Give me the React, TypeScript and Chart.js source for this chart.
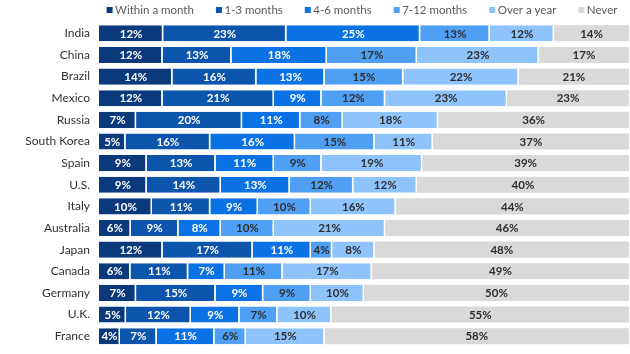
import React, { useEffect, useRef } from "react";
import { Chart, registerables } from "chart.js";

Chart.register(...registerables);

const countries = [
  "India", "China", "Brazil", "Mexico", "Russia", "South Korea", "Spain",
  "U.S.", "Italy", "Australia", "Japan", "Canada", "Germany", "U.K.", "France",
];

const seriesNames = ["Within a month", "1-3 months", "4-6 months", "7-12 months", "Over a year", "Never"];

const withinMonth = [12, 12, 14, 12, 7, 5, 9, 9, 10, 6, 12, 6, 7, 5, 4];
const oneToThree = [23, 13, 16, 21, 20, 16, 13, 14, 11, 9, 17, 11, 15, 12, 7];
const fourToSix = [25, 18, 13, 9, 11, 16, 11, 13, 9, 8, 11, 7, 9, 9, 11];
const sevenToTwelve = [13, 17, 15, 12, 8, 15, 9, 12, 10, 10, 4, 11, 9, 7, 6];
const overAYear = [12, 23, 22, 23, 18, 11, 19, 12, 16, 21, 8, 17, 10, 10, 15];
const never = [14, 17, 21, 23, 36, 37, 39, 40, 44, 46, 48, 49, 50, 55, 58];

const seriesValues = [withinMonth, oneToThree, fourToSix, sevenToTwelve, overAYear, never];
const seriesColors = ["#0a3a7c", "#0b55ad", "#0b72e5", "#4f9ff4", "#8ec3fb", "#d9d9d9"];
const labelColors = ["#ffffff", "#ffffff", "#ffffff", "#2e2e2e", "#2e2e2e", "#2e2e2e"];

const FONT = "Lato, 'Open Sans', sans-serif";

// Each row is shown as a full-width bar, so each share is scaled by its row total.
const rowTotals = countries.map((_, i) => seriesValues.reduce((s, arr) => s + arr[i], 0));

// Percent labels centred inside each segment.
const segmentLabels = {
  id: "segmentLabels",
  afterDatasetsDraw(chart: any) {
    const { ctx } = chart;
    ctx.save();
    ctx.font = `bold 11.5px ${FONT}`;
    ctx.textAlign = "center";
    ctx.textBaseline = "middle";
    chart.data.datasets.forEach((ds: any, di: number) => {
      const meta = chart.getDatasetMeta(di);
      if (meta.hidden) return;
      meta.data.forEach((el: any, i: number) => {
        const cx = (el.x + el.base) / 2;
        ctx.fillStyle = labelColors[di];
        ctx.fillText(`${ds.raw[i]}%`, cx, el.y + 0.5);
      });
    });
    ctx.restore();
  },
};

// Single-row legend with small square markers, centred over the plot area.
const topLegend = {
  id: "topLegend",
  afterDraw(chart: any) {
    const { ctx, chartArea } = chart;
    const box = 6;
    const textGap = 2.5;
    const itemGap = 22;
    ctx.save();
    ctx.font = `11.5px ${FONT}`;
    ctx.textBaseline = "middle";
    ctx.textAlign = "left";
    const widths = seriesNames.map((n) => box + textGap + ctx.measureText(n).width);
    const total = widths.reduce((a, b) => a + b, 0) + itemGap * (widths.length - 1);
    let x = (chartArea.left + chartArea.right) / 2 - total / 2 - 2;
    const y = 10;
    seriesNames.forEach((n, i) => {
      ctx.fillStyle = seriesColors[i];
      ctx.fillRect(x, y - box / 2, box, box);
      ctx.fillStyle = "#5a5a5a";
      ctx.fillText(n, x + box + textGap, y + 0.5);
      x += widths[i] + itemGap;
    });
    ctx.restore();
  },
};

export default function App() {
  const canvasRef = useRef<HTMLCanvasElement | null>(null);

  useEffect(() => {
    if (!canvasRef.current) return;
    const chart = new Chart(canvasRef.current, {
      type: "bar",
      data: {
        labels: countries,
        datasets: seriesNames.map((name, di) => ({
          label: name,
          data: seriesValues[di].map((v, i) => (v * 100) / rowTotals[i]),
          raw: seriesValues[di],
          backgroundColor: seriesColors[di],
          borderColor: "#ffffff",
          borderWidth: { top: 0, bottom: 0, left: 0, right: di === seriesNames.length - 1 ? 0 : 1.5 },
          borderSkipped: false,
          barPercentage: 0.98,
          categoryPercentage: 0.76,
        })) as any,
      },
      options: {
        indexAxis: "y",
        responsive: false,
        animation: false,
        layout: { padding: { top: 22.5, right: 1, bottom: 7, left: 0 } },
        scales: {
          x: { stacked: true, min: 0, max: 100, display: false },
          y: {
            stacked: true,
            grid: { display: false, drawTicks: false },
            border: { display: false },
            afterFit: (axis: any) => {
              axis.width = 99;
              axis.paddingTop = 0;
              axis.paddingBottom = 0;
            },
            ticks: {
              color: "#333333",
              font: { family: FONT, size: 12 },
              padding: 9,
            },
          },
        },
        plugins: {
          legend: { display: false },
          tooltip: { enabled: false },
        },
      },
      plugins: [segmentLabels, topLegend],
    });
    return () => chart.destroy();
  }, []);

  return (
    <div style={{ position: "fixed", left: 0, top: 0, width: 630, height: 354, background: "#fff" }}>
      <canvas ref={canvasRef} width={630} height={354} />
    </div>
  );
}
